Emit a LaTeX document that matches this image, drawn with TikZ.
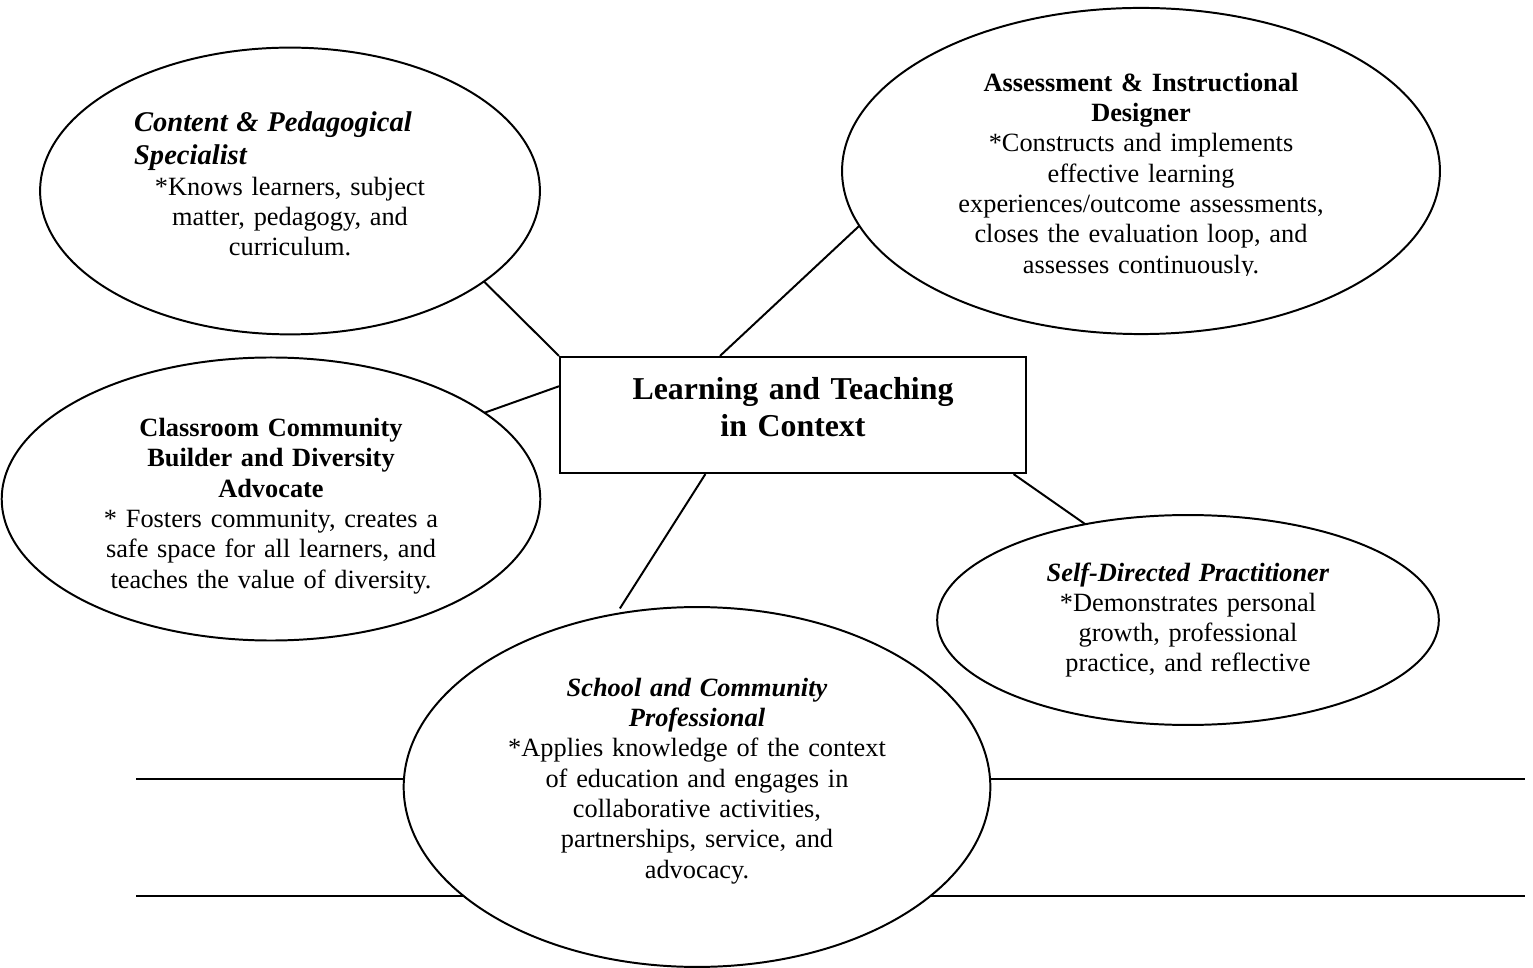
\documentclass[tikz,border=0pt]{standalone}
\usepackage{fontspec}
\setmainfont{Liberation Serif}
\usetikzlibrary{shapes.geometric}

\tikzset{
  role/.style={ellipse, draw, fill=white, line width=0.9pt, inner sep=0pt, outer sep=0pt},
  blurb/.style={text width=8cm, align=center, inner sep=0pt, font=\fontsize{12}{13.8}\selectfont},
  hubbox/.style={rectangle, draw, fill=white, line width=0.9pt, inner sep=0pt,
    minimum width=7.46cm, minimum height=1.86cm},
  link/.style={line width=0.9pt},
  rule/.style={line width=0.9pt}
}

\begin{document}
\begin{tikzpicture}[x=0.016cm, y=-0.016cm]
  \useasboundingbox (0,0) rectangle (1533,968);

  % Writing lines behind the bottom ellipse
  \draw[rule] (136,779) -- (1525,779);
  \draw[rule] (136,896) -- (1525,896);

  % Central box
  \node[hubbox] (hub) at (793,415) {};
  \node[blurb, font=\fontsize{14.5}{17}\selectfont\bfseries] (hubText) at (793,407)
    {Learning and Teaching\\ in Context};

  % Roles
  \node[role, minimum width=8cm, minimum height=4.59cm] (content) at (290,191) {};
  \node[blurb, text width=4.99cm, align=left] (contentText) at (290,184)
    {{\fontsize{13}{15}\selectfont\bfseries\itshape Content \& Pedagogical\\ Specialist\par}
     \centering *Knows learners, subject\\ matter, pedagogy, and\\ curriculum.\par};

  \node[role, minimum width=9.57cm, minimum height=5.22cm] (assess) at (1141,171) {};
  \begin{scope}
    \clip (820,0) rectangle (1460,276);
    \node[blurb] (assessText) at (1141,176)
      {\textbf{Assessment \& Instructional\\ Designer}\\
       {*}Constructs and implements\\ effective learning\\
       experiences/outcome assessments,\\ closes the evaluation loop, and\\
       assesses continuously.};
  \end{scope}

  \node[role, minimum width=8.62cm, minimum height=4.53cm] (classroom) at (271,499) {};
  \node[blurb] (classroomText) at (271,506)
    {\textbf{Classroom Community\\ Builder and Diversity\\ Advocate}\\
     {*} Fosters community, creates a\\ safe space for all learners, and\\
     teaches the value of diversity.};

  \node[role, minimum width=8.03cm, minimum height=3.36cm] (self) at (1188,620) {};
  \node[blurb] (selfText) at (1188,620)
    {\textbf{\textit{Self-Directed Practitioner}}\\
     {*}Demonstrates personal\\ growth, professional\\ practice, and reflective};

  \node[role, minimum width=9.39cm, minimum height=5.76cm] (school) at (697,787) {};
  \node[blurb] (schoolText) at (697,781)
    {\textbf{\textit{School and Community\\ Professional}}\\
     {*}Applies knowledge of the context\\ of education and engages in\\
     collaborative activities,\\ partnerships, service, and\\ advocacy.};

  % Spokes to the central box
  \draw[link] (content.-25) -- (hub.north west);
  \draw[link] (classroom.22) -- (hub.173);
  \draw[link] (assess.191) -- (hub.141.5);
  \draw[link, shorten >=3pt] (hub.214) -- (school.115);
  \draw[link] (hub.345) -- (self.137);
\end{tikzpicture}
\end{document}
